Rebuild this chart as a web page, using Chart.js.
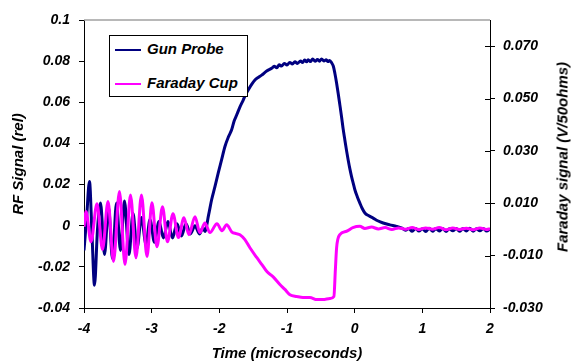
<!DOCTYPE html>
<html>
<head>
<meta charset="utf-8">
<script src="https://cdn.jsdelivr.net/npm/chart.js@4/dist/chart.umd.min.js"></script>
<style>
  body { margin: 0; background: #fff; }
  #wrap { position: relative; width: 571px; height: 364px; }
  #legend {
    position: absolute; left: 109px; top: 35px; width: 137px; height: 60px;
    border: 1px solid #000; background: #fff;
    font: italic bold 15px "Liberation Sans", Arial, sans-serif; color: #000;
  }
  .row { position: absolute; left: 5px; height: 20px; line-height: 20px; white-space: nowrap; }
  .row i { display: inline-block; width: 26px; height: 2px; vertical-align: middle; margin-right: 6px; }
  #ytitle2 {
    position: absolute; left: 562px; top: 157px; white-space: nowrap;
    transform: translate(-50%, -50%) rotate(-90deg);
    font: italic bold 15px "Liberation Sans", Arial, sans-serif; color: #000;
  }
</style>
</head>
<body>
<div id="wrap">
  <canvas id="chart" width="571" height="364"></canvas>
  <div id="legend">
    <div class="row" style="top:3px"><i style="background:#000080"></i>Gun Probe</div>
    <div class="row" style="top:37px"><i style="background:#ff00ff"></i>Faraday Cup</div>
  </div>
  <div id="ytitle2">Faraday signal (V/50ohms)</div>
</div>
<script>
// time in microseconds
const gunTime = [-4.000, -3.963, -3.919, -3.882, -3.845, -3.801, -3.756, -3.697, -3.638, -3.579,
  -3.520, -3.461, -3.402, -3.335, -3.276, -3.217, -3.151, -3.084, -3.025, -2.959,
  -2.892, -2.826, -2.759, -2.693, -2.626, -2.560, -2.493, -2.427, -2.360, -2.294, -2.242,
  -2.213, -2.16, -2.114, -2.065, -2.016, -1.967, -1.917, -1.868, -1.818, -1.78,
  -1.744, -1.695, -1.647, -1.61, -1.573, -1.52, -1.474, -1.42, -1.375, -1.30,
  -1.227, -1.19, -1.15, -1.115, -1.08, -1.04, -1.0, -0.96, -0.92, -0.883,
  -0.845, -0.80, -0.77, -0.74, -0.71, -0.687, -0.655, -0.62, -0.585, -0.55,
  -0.52, -0.489, -0.455, -0.42, -0.395, -0.37, -0.341, -0.315, -0.292, -0.268,
  -0.244, -0.22, -0.194, -0.17, -0.145, -0.12, -0.096, -0.07, -0.046, -0.02,
  0.003, 0.04, 0.077, 0.11, 0.151, 0.21, 0.273, 0.34, 0.421, 0.52,
  0.619, 0.70, 0.75, 0.80, 0.85, 0.90, 0.95, 1.0, 1.05, 1.10,
  1.15, 1.20, 1.25, 1.30, 1.35, 1.40, 1.45, 1.50, 1.55, 1.60,
  1.65, 1.70, 1.75, 1.80, 1.85, 1.90, 1.95, 2.0];
const gunSignal = [-0.012, 0.003, 0.0215, -0.004, -0.029, -0.002, 0.011, -0.014, 0.009, -0.016,
  0.011, -0.012, 0.012, -0.014, 0.006, -0.011, 0.004, -0.009, 0.003, -0.008,
  0.002, -0.006, 0.002, -0.006, 0.001, -0.005, 0.001, -0.004, 0.0, -0.004, -0.001,
  -0.0028, 0.005, 0.0126, 0.019, 0.0257, 0.032, 0.0385, 0.043, 0.0466, 0.051,
  0.0538, 0.0578, 0.0611, 0.0638, 0.066, 0.0688, 0.0708, 0.0722, 0.0732, 0.0752,
  0.0765, 0.0775, 0.0768, 0.0782, 0.0776, 0.0789, 0.0781, 0.0794, 0.0786, 0.0797,
  0.0789, 0.0801, 0.0793, 0.0805, 0.0797, 0.0807, 0.0798, 0.081, 0.0799, 0.0808,
  0.08, 0.0811, 0.0801, 0.0807, 0.0798, 0.0803, 0.0792, 0.0775, 0.074, 0.0695,
  0.0644, 0.059, 0.053, 0.047, 0.0417, 0.0365, 0.032, 0.0275, 0.0239, 0.0205,
  0.0175, 0.014, 0.011, 0.0085, 0.0062, 0.0048, 0.0037, 0.0024, 0.0013, 0.0004,
  -0.0003, -0.0012, -0.0022, -0.0014, -0.0027, -0.0013, -0.0026, -0.0015, -0.0028, -0.0012,
  -0.0027, -0.0014, -0.0026, -0.0013, -0.0028, -0.0015, -0.0025, -0.0013, -0.0027, -0.0014,
  -0.0026, -0.0012, -0.0027, -0.0015, -0.0025, -0.0013, -0.0026, -0.0016];

const cupTime = [-4.000, -3.970, -3.897, -3.808, -3.727, -3.645, -3.564, -3.476, -3.394, -3.313,
  -3.232, -3.151, -3.069, -2.996, -2.922, -2.840, -2.767, -2.685, -2.604, -2.523,
  -2.449, -2.360, -2.287, -2.213, -2.139, -2.035, -1.962, -1.892, -1.814, -1.75,
  -1.696, -1.622, -1.548, -1.445, -1.371, -1.297, -1.208, -1.105, -1.031, -0.957,
  -0.854, -0.765, -0.662, -0.558, -0.47, -0.366, -0.307, -0.285, -0.267, -0.219,
  -0.12, -0.027, 0.077, 0.15, 0.25, 0.35, 0.45, 0.55, 0.65, 0.75,
  0.85, 0.95, 1.05, 1.15, 1.25, 1.35, 1.45, 1.55, 1.65, 1.75,
  1.85, 1.95, 2.0];
const cupSignal = [0.001, 0.0069, -0.0047, 0.0098, -0.0077, 0.0107, -0.0122, 0.0145, -0.0134, 0.0132,
  -0.0108, 0.0132, -0.0103, 0.0102, -0.0066, 0.0087, -0.0047, 0.006, -0.0031, 0.0045,
  -0.002, 0.0049, -0.0012, 0.0025, -0.0012, 0.0022, -0.0005, 0.0018, -0.001, -0.0016,
  -0.002, -0.0039, -0.007, -0.0108, -0.0134, -0.0161, -0.018, -0.021, -0.0229, -0.0249,
  -0.0256, -0.026, -0.026, -0.0268, -0.0268, -0.0264, -0.0256, -0.0153, -0.007, -0.002,
  -0.0007, 0.0007, 0.0012, 0.0004, 0.0009, 0.0002, 0.0007, 0.0, 0.0006, 0.0001,
  0.0007, 0.0, 0.0006, 0.0001, 0.0007, -0.0001, 0.0006, 0.0, 0.0005, -0.0001,
  0.0006, 0.0, 0.0003];

const xTicks = [-4, -3, -2, -1, 0, 1, 2];
const leftTicks = [-0.04, -0.02, 0, 0.02, 0.04, 0.06, 0.08, 0.1];
const leftTickLabels = ["-0.04", "-0.02", "0", "0.02", "0.04", "0.06", "0.08", "0.1"];
const rightTicks = [-0.03, -0.01, 0.01, 0.03, 0.05, 0.07];
const rightTickLabels = ["-0.030", "-0.010", "0.010", "0.030", "0.050", "0.070"];

const font = { family: '"Liberation Sans", Arial, sans-serif', style: "italic", weight: "bold", size: 14 };
const titleFont = { family: '"Liberation Sans", Arial, sans-serif', style: "italic", weight: "bold", size: 15 };

// top border is grey, right axis ticks cross the axis line
const framePlugin = {
  id: "frame",
  afterDraw(chart) {
    const { ctx, chartArea } = chart;
    ctx.save();
    ctx.strokeStyle = "#a0a0a0";
    ctx.lineWidth = 1.5;
    ctx.beginPath();
    ctx.moveTo(chartArea.left, chartArea.top);
    ctx.lineTo(chartArea.right, chartArea.top);
    ctx.stroke();
    ctx.strokeStyle = "#000";
    ctx.lineWidth = 1;
    const y2 = chart.scales.y2;
    rightTicks.forEach(v => {
      const py = Math.round(y2.getPixelForValue(v)) + 0.5;
      ctx.beginPath();
      ctx.moveTo(chartArea.right - 5, py);
      ctx.lineTo(chartArea.right, py);
      ctx.stroke();
    });
    ctx.restore();
  }
};

let ctx = document.getElementById("chart").getContext("2d");

let rfChart = new Chart(ctx, {
  type: "line",
  data: {
    datasets: [
      {
        label: "Gun Probe",
        data: gunTime.map((t, i) => ({ x: t, y: gunSignal[i] })),
        borderColor: "#000080",
        borderWidth: 3,
        pointRadius: 0,
        cubicInterpolationMode: "monotone",
        yAxisID: "y",
        order: 1
      },
      {
        label: "Faraday Cup",
        data: cupTime.map((t, i) => ({ x: t, y: cupSignal[i] })),
        borderColor: "#ff00ff",
        borderWidth: 3,
        pointRadius: 0,
        cubicInterpolationMode: "monotone",
        yAxisID: "y2",
        order: 0
      }
    ]
  },
  options: {
    responsive: false,
    animation: false,
    layout: { padding: { top: 20, left: 0, right: 0, bottom: 0 } },
    plugins: { legend: { display: false }, tooltip: { enabled: false } },
    scales: {
      x: {
        type: "linear",
        min: -4,
        max: 2,
        afterBuildTicks: s => { s.ticks = xTicks.map(v => ({ value: v })); },
        afterFit: s => { s.height = 56; },
        grid: { drawOnChartArea: false, tickLength: 5, color: "#000" },
        border: { color: "#000", width: 1 },
        ticks: { padding: 8, color: "#000", font: font, autoSkip: false, maxRotation: 0 },
        title: { display: true, text: "Time (microseconds)", color: "#000", font: titleFont, padding: { top: 0, bottom: 1 } }
      },
      y: {
        position: "left",
        min: -0.04,
        max: 0.1,
        afterBuildTicks: s => { s.ticks = leftTicks.map(v => ({ value: v })); },
        afterFit: s => { s.width = 84; },
        grid: { drawOnChartArea: false, tickLength: 5, color: "#000" },
        border: { color: "#000", width: 1 },
        ticks: {
          padding: 9, color: "#000", font: font, autoSkip: false,
          callback: v => leftTickLabels[leftTicks.findIndex(t => Math.abs(t - v) < 1e-9)]
        },
        title: { display: true, text: "RF Signal (rel)", color: "#000", font: titleFont, padding: { top: 10, bottom: 0 } }
      },
      y2: {
        position: "right",
        min: -0.03,
        max: 0.08,
        afterBuildTicks: s => { s.ticks = rightTicks.map(v => ({ value: v })); },
        afterFit: s => { s.width = 81; },
        grid: { drawOnChartArea: false, tickLength: 5, color: "#000" },
        border: { color: "#000", width: 1 },
        ticks: {
          padding: 8, color: "#000", font: font, autoSkip: false,
          callback: v => rightTickLabels[rightTicks.findIndex(t => Math.abs(t - v) < 1e-9)]
        }
      }
    }
  },
  plugins: [framePlugin]
});
</script>
</body>
</html>
